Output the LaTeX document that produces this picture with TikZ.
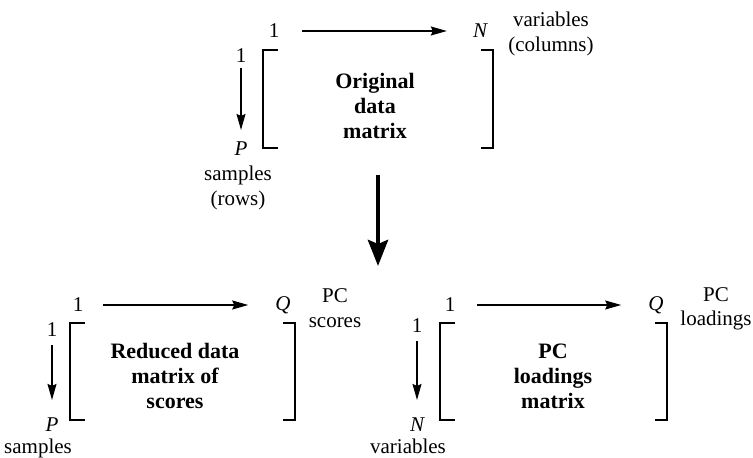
\documentclass[tikz,border=0pt]{standalone}
\usepackage{fontspec}
\setmainfont{Liberation Serif}
\usetikzlibrary{arrows.meta}
\begin{document}
\begin{tikzpicture}[x=1pt,y=-1pt,
  lbl/.style={inner sep=0pt, font=\fontsize{21}{24.5}\selectfont, align=center},
  idx/.style={inner sep=0pt, font=\fontsize{21}{25}\selectfont},
  body/.style={inner sep=0pt, font=\fontsize{22}{25}\selectfont\bfseries, align=center},
  mat/.style={inner sep=0pt, minimum width=#1, minimum height=97pt},
  bracket/.style={line width=1.8pt},
  arr/.style={line width=1.3pt, -{Stealth[length=16pt,width=9pt,inset=2pt]}},
  bigarr/.style={line width=4.5pt, -{Stealth[length=26pt,width=20pt,inset=4pt]}},
]
\useasboundingbox (0,0) rectangle (753,458);

% ---- original data matrix ----
\node[mat=230pt] (mT) at (378,99) {};
\node[body] (mTtxt) at (375,106) {Original\\data\\matrix};
\node[idx] (tT1) at (274,31) {1};
\node[idx] (tTN) at (480,31) {\itshape N};
\node[lbl] (tTvar) at (551,34) {variables\\(columns)};
\node[idx] (tL1) at (241,56) {1};
\node[idx] (tLP) at (241,149) {\itshape P};
\node[lbl] (tLs) at (238,188) {samples\\(rows)};
\draw[arr, shorten <=23pt, shorten >=26pt] (tT1.east) -- (tTN.west);
\draw[arr, shorten <=5pt, shorten >=12pt] (tL1.south) -- (tLP.north);

% ---- reduced data matrix of scores ----
\node[mat=225pt] (mL) at (182.5,371.5) {};
\node[body] (mLtxt) at (175,376) {Reduced data\\matrix of\\scores};
\node[idx] (bL1t) at (78,305) {1};
\node[idx] (bLQ) at (283,305) {\itshape Q};
\node[lbl] (bLpc) at (335,308) {PC\\scores};
\node[idx] (bL1l) at (52,330) {1};
\node[idx] (bLP) at (52,425) {\itshape P};
\node[lbl, anchor=base] (bLs) at (38,453) {samples};
\draw[arr, shorten <=20pt, shorten >=27pt] (bL1t.east) -- (bL1t.east -| bLQ.west);
\draw[arr, shorten <=8pt, shorten >=18pt] (bL1l.south) -- (bLP.north);

% ---- PC loadings matrix ----
\node[mat=227pt] (mR) at (553.5,371.5) {};
\node[body] (mRtxt) at (553,376) {PC\\loadings\\matrix};
\node[idx] (bR1t) at (450,305) {1};
\node[idx] (bRQ) at (656,305) {\itshape Q};
\node[lbl] (bRpc) at (716,309) {PC\\loadings};
\node[idx] (bR1l) at (417,326) {1};
\node[idx] (bRN) at (417,425) {\itshape N};
\node[lbl, anchor=base] (bRv) at (408,453) {variables};
\draw[arr, shorten <=22pt, shorten >=27pt] (bR1t.east) -- (bR1t.east -| bRQ.west);
\draw[arr, shorten <=8pt, shorten >=18pt] (bR1l.south) -- (bRN.north);

% ---- square brackets of the three matrices ----
\foreach \m in {mT,mL,mR} {
  \draw[bracket] ([xshift=15pt]\m.north west) -- (\m.north west)
    -- (\m.south west) -- ([xshift=15pt]\m.south west);
  \draw[bracket] ([xshift=-12pt]\m.north east) -- (\m.north east)
    -- (\m.south east) -- ([xshift=-12pt]\m.south east);
}

% ---- decomposition arrow ----
\coordinate (split) at (378,266);
\draw[bigarr, shorten <=27pt] (mT.south) -- (split);
\end{tikzpicture}
\end{document}
